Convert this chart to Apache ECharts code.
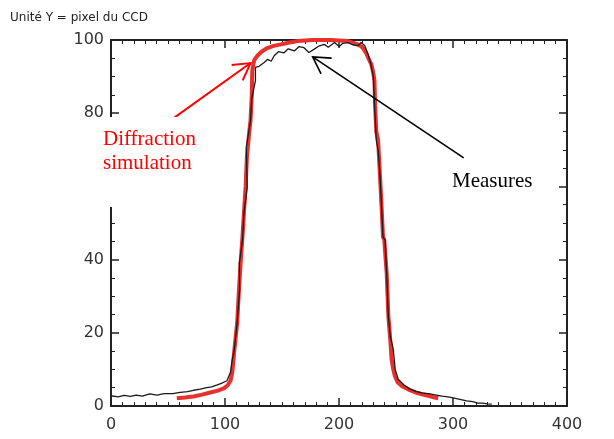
<!DOCTYPE html>
<html>
<head>
<meta charset="utf-8">
<script src="https://cdn.jsdelivr.net/npm/echarts@6/dist/echarts.min.js"></script>
<style>
  html, body { margin: 0; padding: 0; background: #fff; }
  #chart { width: 614px; height: 439px; }
</style>
</head>
<body>
<div id="chart"></div>
<script>
const measureX = [0, 6.2, 11.5, 16.9, 22.2, 27.5, 33.9, 40.3, 46.7, 54.2, 60.6, 67, 72.3, 78.3, 84, 88.3, 92.6, 96.8, 101.7, 104.8, 106.4, 108, 110.7, 112.8, 112.6, 115.4, 116.6, 119.5, 118.7, 122.4, 123.5, 126.7, 126.7, 129.9, 134.1, 137.3, 140.5, 143.1, 146.9, 151.8, 155.5, 160.8, 165, 169.3, 173.6, 178.3, 182.1, 187.1, 190.6, 196, 200.2, 203.4, 207.7, 212, 216.6, 219.4, 222.6, 225.5, 227.9, 230.1, 231.1, 232.7, 234.3, 235.7, 237.2, 238.6, 240.4, 241.8, 243.3, 245, 247.6, 249.3, 251.9, 256.7, 262.5, 267.4, 272.8, 279.9, 285.3, 290.6, 296.9, 303.1, 312, 317.4, 321.9, 326.3, 329.9, 334];
const measureY = [2.8, 2.5, 2.9, 2.6, 3.0, 2.7, 3.3, 3.0, 3.4, 3.4, 3.7, 3.9, 4.3, 4.6, 5.0, 5.2, 5.7, 6.2, 6.9, 9.2, 12.8, 15, 22.8, 31.8, 39, 45.4, 52.7, 59.8, 70.7, 78, 84, 88.9, 92.5, 92.8, 93.8, 94.7, 94.2, 95.7, 96.8, 96.5, 97.6, 97, 98.2, 97.9, 96.6, 97.5, 98.3, 98.8, 98.0, 99.3, 98.2, 99.1, 99.3, 98.7, 98.4, 99.3, 98.4, 96.1, 93.5, 90, 82.6, 72.6, 70, 64.4, 55.4, 46.2, 45.4, 36.4, 24.5, 19, 15.5, 10, 7.3, 5.8, 4.6, 4.0, 3.6, 3.3, 3.0, 2.7, 2.4, 2.0, 1.4, 1.2, 0.8, 0.8, 0.6, 0.5];

// diffraction simulation (red)
const simX = [57.7, 64.8, 72.3, 79.8, 87.2, 93.6, 99, 102.2, 104.8, 106.4, 107.5, 108, 110.7, 112.3, 113.9, 115.3, 116.6, 118.1, 119.2, 121.3, 122.4, 123.5, 123.9, 125.6, 128.4, 132, 137.1, 142.7, 149.1, 156.5, 163.7, 176.8, 192.8, 207.7, 216.6, 220.5, 223.7, 225.8, 228.3, 230.1, 231.1, 231.7, 232.7, 234.3, 235.7, 237.2, 238.6, 239.7, 241.8, 243.3, 245, 246.1, 247.6, 249, 251.4, 254.9, 261, 267.3, 272.8, 278.3, 283.1, 287];
const simY = [2.1, 2.3, 2.6, 3.1, 3.7, 4.2, 4.8, 5.6, 6.9, 9.2, 12.8, 14.7, 22.8, 32, 40, 46.2, 52.7, 60, 68, 75, 78, 85, 91.6, 94.5, 95.7, 96.8, 97.8, 98.4, 98.8, 99.3, 99.7, 100, 100, 99.7, 98.8, 98, 96.5, 95, 93.4, 91, 88.9, 82, 75, 72.6, 64.4, 55.4, 46.2, 45.4, 36.4, 24.5, 18, 12.8, 10, 8.2, 6.5, 5.5, 4.5, 3.7, 3.2, 2.8, 2.4, 2.1];

// annotation arrows: [tailX, tailY, tipX, tipY] in data units
const arrowSim = [48.8, 77.3, 122.4, 93.7];
const arrowMeasure = [309.4, 67.8, 176.9, 95.4];

const chart = echarts.init(document.getElementById('chart'));

const axisColor = '#222';
const labelFont = 'DejaVu Sans';

function zip(xs, ys) {
  return xs.map((x, i) => [x, ys[i]]);
}

function arrowRenderer(color, width) {
  return function (params, api) {
    const p1 = api.coord([api.value(0), api.value(1)]);
    const p2 = api.coord([api.value(2), api.value(3)]);
    const ang = Math.atan2(p1[1] - p2[1], p1[0] - p2[0]);
    const len = 19;
    const spread = 30 * Math.PI / 180;
    const b1 = [p2[0] + len * Math.cos(ang + spread), p2[1] + len * Math.sin(ang + spread)];
    const b2 = [p2[0] + len * Math.cos(ang - spread), p2[1] + len * Math.sin(ang - spread)];
    const style = { stroke: color, lineWidth: width, fill: null };
    return {
      type: 'group',
      children: [
        { type: 'polyline', shape: { points: [p1, p2] }, style: style },
        { type: 'polyline', shape: { points: [b1, p2, b2] }, style: style },
      ],
    };
  };
}

function makeXAxis(pos, showLabel) {
  return {
    type: 'value',
    position: pos,
    min: 0,
    max: 400,
    interval: 100,
    axisLine: { show: true, onZero: false, lineStyle: { color: axisColor, width: 2 } },
    axisTick: { show: true, inside: true, length: 8, lineStyle: { color: axisColor, width: 1.5 } },
    minorTick: { show: true, splitNumber: 10, length: 4, lineStyle: { color: axisColor, width: 1 } },
    axisLabel: { show: showLabel, fontFamily: labelFont, fontSize: 16, color: '#333', margin: 11 },
    splitLine: { show: false },
  };
}

function makeYAxis(pos, showLabel) {
  return {
    type: 'value',
    position: pos,
    min: 0,
    max: 100,
    interval: 20,
    axisLine: { show: true, onZero: false, lineStyle: { color: axisColor, width: 2 } },
    axisTick: { show: true, inside: true, length: 8, lineStyle: { color: axisColor, width: 1.5 } },
    minorTick: { show: true, splitNumber: 4, length: 4, lineStyle: { color: axisColor, width: 1 } },
    axisLabel: { show: showLabel, fontFamily: labelFont, fontSize: 16, color: '#333', margin: 7 },
    splitLine: { show: false },
  };
}

const option = {
  animation: false,
  backgroundColor: '#fff',
  title: {
    text: 'Unité Y = pixel du CCD',
    left: 5,
    top: 7,
    textStyle: { fontFamily: labelFont, fontSize: 12, fontWeight: 'normal', color: '#222' },
  },
  grid: { left: 111, right: 47, top: 40, bottom: 33, containLabel: false },
  xAxis: [makeXAxis('bottom', true), makeXAxis('top', false)],
  yAxis: [makeYAxis('left', true), makeYAxis('right', false)],
  series: [
    {
      name: 'Diffraction simulation',
      type: 'line',
      data: zip(simX, simY),
      showSymbol: false,
      lineStyle: { color: '#e8302c', width: 4 },
      z: 2,
    },
    {
      name: 'Measures',
      type: 'line',
      data: zip(measureX, measureY),
      showSymbol: false,
      lineStyle: { color: '#1a1a1a', width: 1.3 },
      z: 3,
    },
    {
      type: 'custom',
      renderItem: arrowRenderer('#ff0000', 2),
      data: [arrowSim],
      z: 5,
      silent: true,
    },
    {
      type: 'custom',
      renderItem: arrowRenderer('#000000', 1.6),
      data: [arrowMeasure],
      z: 5,
      silent: true,
    },
  ],
  graphic: [
    {
      type: 'rect',
      left: 82,
      top: 117,
      shape: { width: 128, height: 90 },
      style: { fill: '#fff' },
      z: 100,
    },
    {
      type: 'text',
      left: 103,
      top: 127,
      style: {
        text: 'Diffraction\nsimulation',
        fill: '#ff0000',
        font: '21px "Liberation Serif"',
        lineHeight: 24,
      },
      z: 101,
    },
    {
      type: 'text',
      left: 452,
      top: 171,
      style: {
        text: 'Measures',
        fill: '#000',
        font: '21px "Liberation Serif"',
      },
      z: 101,
    },
  ],
};

chart.setOption(option);
</script>
</body>
</html>
